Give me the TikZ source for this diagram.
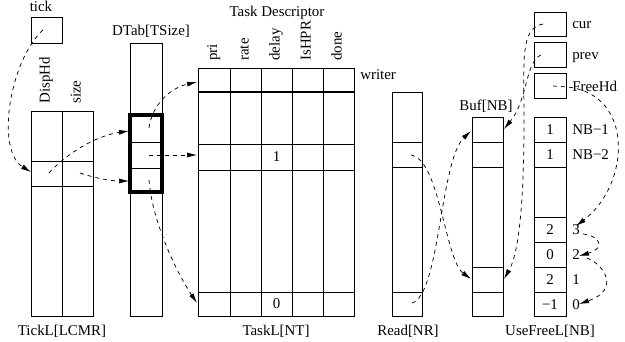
\documentclass[tikz,border=0pt]{standalone}
\usepackage{fontspec}
\setmainfont{Liberation Serif}
\usetikzlibrary{arrows.meta}
\newcommand\diagfont{\fontsize{11.2}{13}\selectfont}
\begin{document}
\begin{tikzpicture}[x=0.75pt,y=-0.75pt,
  grid/.style={line width=0.55pt},
  lbl/.style={font=\diagfont, inner sep=0pt},
  hdr/.style={font=\diagfont, inner sep=0pt, rotate=90, anchor=mid west},
  link/.style={line width=0.55pt, dash pattern=on 3pt off 3pt,
               -{Latex[length=7.5pt,width=3.8pt]}}]
\useasboundingbox (0,0) rectangle (625,342);

% ---- tick counter and TickL table ----
\draw[grid] (31,17) rectangle (62,43);
\node[lbl, anchor=base] (ticklbl) at (41,12) {tick};
\draw[grid] (31,111) rectangle (93,316);
\draw[grid] (62,111) -- (62,316);
\draw[grid] (31,161) -- (93,161) (31,186) -- (93,186);
\node[hdr] (hDisp) at (46.5,104) {DispHd};
\node[hdr] (hSize) at (77.5,104) {size};
\node[lbl, anchor=base] (tickL) at (62,335) {TickL[LCMR]};

% ---- DTab ----
\draw[grid] (130,43) rectangle (162,316);
\draw[grid] (130,142) -- (162,142) (130,168) -- (162,168);
\draw[line width=2.4pt] (130,115) rectangle (162,192);
\node[lbl, anchor=base] (dtab) at (151,36) {DTab[TSize]};

% ---- TaskL ----
\draw[grid] (198,68) rectangle (354,316);
\foreach \x in {230,261,292,323} \draw[grid] (\x,68) -- (\x,316);
\draw[line width=2pt] (198,92) -- (354,92);
\foreach \y in {144,170,292} \draw[grid] (198,\y) -- (354,\y);
\node[lbl, anchor=base] (tdesc) at (277,17) {Task Descriptor};
\node[hdr] (hPri)   at (214,61) {pri};
\node[hdr] (hRate)  at (245.5,61) {rate};
\node[hdr] (hDelay) at (276.5,61) {delay};
\node[hdr] (hHPR)   at (307.5,61) {IsHPR};
\node[hdr] (hDone)  at (338.5,61) {done};
\node[lbl] (v1) at (276.5,157) {1};
\node[lbl] (v0) at (276.5,304) {0};
\node[lbl, anchor=base west] (writer) at (360,80) {writer};
\node[lbl, anchor=base] (taskL) at (276,335) {TaskL[NT]};

% ---- Read ----
\draw[grid] (392,92) rectangle (422,316);
\foreach \y in {142,167,292} \draw[grid] (392,\y) -- (422,\y);
\node[lbl, anchor=base] (readL) at (408,335) {Read[NR]};

% ---- Buf ----
\draw[grid] (472,117) rectangle (503,316);
\foreach \y in {142,167,267,292} \draw[grid] (472,\y) -- (503,\y);
\node[lbl, anchor=base] (bufL) at (486,111) {Buf[NB]};

% ---- cur / prev / FreeHd ----
\draw[grid] (534,12) rectangle (566,36);
\draw[grid] (534,42) rectangle (566,67);
\draw[grid] (534,73) rectangle (566,98);
\node[lbl, anchor=base west] (curL)  at (572,29) {cur};
\node[lbl, anchor=base west] (prevL) at (572,60) {prev};
\node[lbl, anchor=base west] (freeL) at (572,92) {FreeHd};

% ---- UseFreeL ----
\draw[grid] (534,117) rectangle (566,316);
\foreach \y in {142,167,217,242,267,292} \draw[grid] (534,\y) -- (566,\y);
\node[lbl] (u1) at (550,129.5) {1};
\node[lbl] (u2) at (550,154.5) {1};
\node[lbl] (u3) at (550,229.5) {2};
\node[lbl] (u4) at (550,254.5) {0};
\node[lbl] (u5) at (550,279.5) {2};
\node[lbl] (u6) at (550,304.5) {−1};
\node[lbl, anchor=west] (i1) at (572,129.5) {NB−1};
\node[lbl, anchor=west] (i2) at (572,154.5) {NB−2};
\node[lbl, anchor=west] (i3) at (572,229.5) {3};
\node[lbl, anchor=west] (i4) at (572,254.5) {2};
\node[lbl, anchor=west] (i5) at (572,279.5) {1};
\node[lbl, anchor=west] (i6) at (572,304.5) {0};
\node[lbl, anchor=base] (useL) at (550,335) {UseFreeL[NB]};

% ---- pointer end points ----
\coordinate (tickP)  at (43,30);
\coordinate (tlRow)  at (31,172);
\coordinate (tlDisp) at (49,173);
\coordinate (tlSize) at (80,173);
\coordinate (dtIn1)  at (129,131);
\coordinate (dtIn3)  at (129,181);
\coordinate (dt1)    at (149,128);
\coordinate (dt2)    at (149,155);
\coordinate (dt3)    at (149,180);
\coordinate (tkTop)  at (197,82);
\coordinate (tkMid)  at (197,155);
\coordinate (tkBot)  at (197,303);
\coordinate (rd2)    at (411,155);
\coordinate (rdN)    at (412,303);
\coordinate (bfTopL) at (471,131);
\coordinate (bfTopR) at (504,129);
\coordinate (bfRowL) at (471,279);
\coordinate (bfRowR) at (504,279);
\coordinate (curP)   at (543,24);
\coordinate (prevP)  at (541,55);
\coordinate (freeP)  at (553,86);
\coordinate (n3in)   at (576,226);
\coordinate (n3out)  at (583,234);
\coordinate (n2in)   at (579,256);
\coordinate (n2out)  at (587,258);
\coordinate (n0in)   at (579,304);

% ---- pointers ----
\draw[link] (tickP) .. controls (10,60) and (-5,150) .. (tlRow);
\draw[link] (tlDisp) .. controls (70,150) and (100,135) .. (dtIn1);
\draw[link] (tlSize) .. controls (95,178) and (110,181) .. (dtIn3);
\draw[link] (dt1) .. controls (152,105) and (170,88) .. (tkTop);
\draw[link] (dt2) -- (tkMid);
\draw[link] (dt3) .. controls (152,220) and (175,270) .. (tkBot);
\draw[link] (rd2) .. controls (440,160) and (445,260) .. (bfRowL);
\draw[link] (rdN) .. controls (440,295) and (440,160) .. (bfTopL);
\draw[link] (curP) .. controls (520,28) and (524,60) .. (524,120)
            .. controls (524,230) and (515,260) .. (bfRowR);
\draw[link] (prevP) .. controls (525,62) and (528,100) .. (bfTopR);
\draw[link] (freeP) -- (568,87) .. controls (635,95) and (630,185) .. (n3in);
\draw[link] (n3out) .. controls (600,236) and (606,248) .. (n2in);
\draw[link] (n2out) .. controls (605,265) and (620,290) .. (n0in);
\end{tikzpicture}
\end{document}
